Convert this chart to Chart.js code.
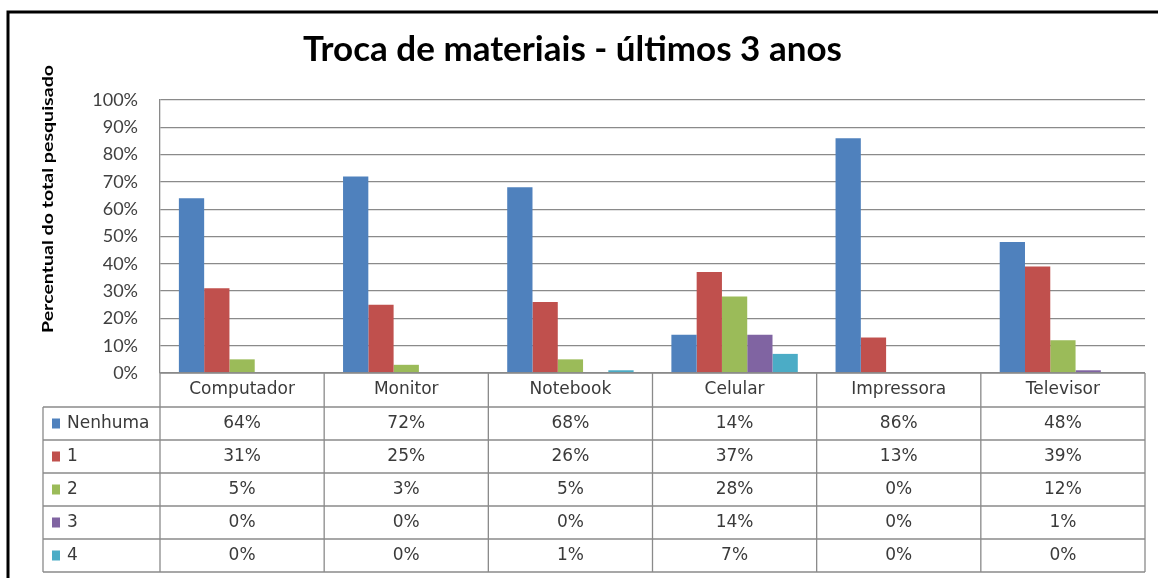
<!DOCTYPE html>
<html>
<head>
<meta charset="utf-8">
<script src="https://cdn.jsdelivr.net/npm/chart.js@4.4.0/dist/chart.umd.min.js"></script>
<style>
  html, body { margin: 0; padding: 0; background: #fff; }
  #wrap { position: relative; width: 1158px; height: 578px; }
</style>
</head>
<body>
<div id="wrap"><canvas id="chart"></canvas></div>
<script>
// Troca de materiais - ultimos 3 anos

const categories = ['Computador', 'Monitor', 'Notebook', 'Celular', 'Impressora', 'Televisor'];
const seriesNames = ['Nenhuma', '1', '2', '3', '4'];
const nenhuma = [64, 72, 68, 14, 86, 48];
const uma = [31, 25, 26, 37, 13, 39];
const duas = [5, 3, 5, 28, 0, 12];
const tres = [0, 0, 0, 14, 0, 1];
const quatro = [0, 0, 1, 7, 0, 0];
const seriesColors = ['#4F81BD', '#C0504D', '#9BBB59', '#8064A2', '#4BACC6'];

const allSeries = [nenhuma, uma, duas, tres, quatro];

const TABLE_FONT = '17px "DejaVu Sans", Verdana, sans-serif';
const LINE_COLOR = '#8a8a8a';

// frame + y axis title
const framePlugin = {
    id: 'frame',
    beforeDraw(chart) {
        const ctx = chart.ctx;
        ctx.save();
        ctx.fillStyle = '#fff';
        ctx.fillRect(0, 0, chart.width, chart.height);
        ctx.strokeStyle = '#000';
        ctx.lineWidth = 3;
        ctx.beginPath();
        ctx.moveTo(8, chart.height);
        ctx.lineTo(8, 12);
        ctx.lineTo(chart.width, 12);
        ctx.stroke();

        // stretched a bit to match the original's wide bold font
        const label = 'Percentual do total pesquisado';
        ctx.font = 'bold 16px Lato, sans-serif';
        const w = ctx.measureText(label).width;
        ctx.translate(48, 199);
        ctx.rotate(-Math.PI / 2);
        ctx.scale(268 / w, 1);
        ctx.fillStyle = '#000';
        ctx.textAlign = 'center';
        ctx.textBaseline = 'middle';
        ctx.fillText(label, 0, 0);
        ctx.restore();
    }
};

// data table under the plot
const tablePlugin = {
    id: 'dataTable',
    afterDraw(chart) {
        const ctx = chart.ctx;
        const area = chart.chartArea;
        const x = chart.scales.x;
        const colW = (area.right - area.left) / categories.length;
        const headH = 34;
        const rowH = 33;
        const tableLeft = 43;
        const top = area.bottom;
        const rowsTop = top + headH;
        const bottom = rowsTop + rowH * seriesNames.length;

        ctx.save();
        ctx.strokeStyle = LINE_COLOR;
        ctx.lineWidth = 1.3;
        ctx.beginPath();
        ctx.moveTo(area.left, top);
        ctx.lineTo(area.right, top);
        for (let i = 0; i <= categories.length; i++) {
            const cx = area.left + i * colW;
            ctx.moveTo(cx, top);
            ctx.lineTo(cx, bottom);
        }
        ctx.moveTo(tableLeft, rowsTop);
        ctx.lineTo(tableLeft, bottom);
        for (let r = 0; r <= seriesNames.length; r++) {
            const ry = rowsTop + r * rowH;
            ctx.moveTo(tableLeft, ry);
            ctx.lineTo(area.right, ry);
        }
        ctx.stroke();

        ctx.font = TABLE_FONT;
        ctx.fillStyle = '#3a3a3a';
        ctx.textAlign = 'center';
        ctx.textBaseline = 'middle';
        categories.forEach((c, i) => {
            ctx.fillText(c, x.getPixelForValue(i), top + headH / 2);
        });

        seriesNames.forEach((name, r) => {
            const cy = rowsTop + r * rowH + rowH / 2;
            ctx.fillStyle = seriesColors[r];
            ctx.fillRect(tableLeft + 9, cy - 5, 8, 10);
            ctx.fillStyle = '#3a3a3a';
            ctx.textAlign = 'left';
            ctx.fillText(name, tableLeft + 24, cy);
            ctx.textAlign = 'center';
            allSeries[r].forEach((v, i) => {
                ctx.fillText(v + '%', x.getPixelForValue(i), cy);
            });
        });
        ctx.restore();
    }
};

const ctx = document.getElementById('chart');
new Chart(ctx, {
    type: 'bar',
    data: {
        labels: categories,
        datasets: seriesNames.map((name, i) => ({
            label: name,
            data: allSeries[i],
            backgroundColor: seriesColors[i],
            borderWidth: 0,
            barPercentage: 1,
            categoryPercentage: 0.77
        }))
    },
    options: {
        responsive: true,
        maintainAspectRatio: false,
        animation: false,
        layout: {
            padding: { left: 0, right: 13, top: 0, bottom: 205 }
        },
        plugins: {
            legend: { display: false },
            tooltip: { enabled: false },
            title: {
                display: true,
                text: 'Troca de materiais - últimos 3 anos',
                color: '#000',
                font: { family: 'Lato, sans-serif', size: 35, weight: 'bold' },
                padding: { top: 29, bottom: 29 }
            }
        },
        scales: {
            x: {
                display: false
            },
            y: {
                min: 0,
                max: 100,
                ticks: {
                    stepSize: 10,
                    padding: 22,
                    color: '#404040',
                    font: { family: 'Lato, sans-serif', size: 18 },
                    callback: v => v + '%'
                },
                grid: { color: LINE_COLOR, lineWidth: 1.3, drawTicks: false },
                border: { display: true, color: LINE_COLOR, width: 1.3 },
                afterFit: s => { s.width = 160; }
            }
        }
    },
    plugins: [framePlugin, tablePlugin]
});
</script>
</body>
</html>
